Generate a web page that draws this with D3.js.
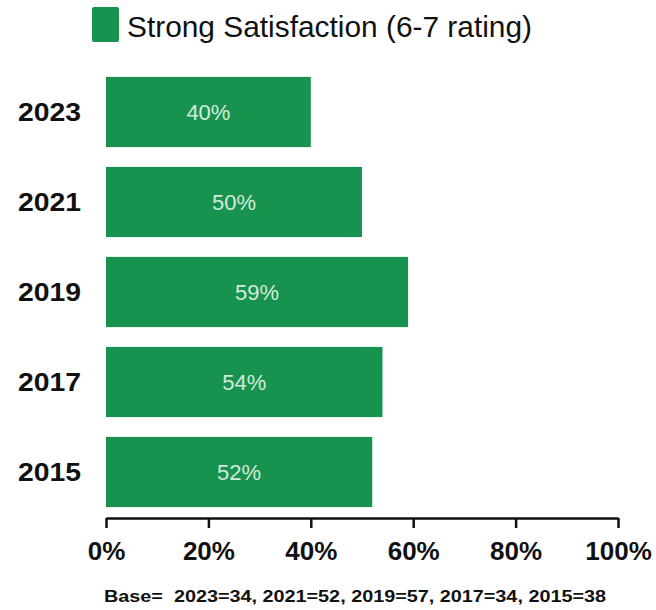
<!DOCTYPE html>
<html>
<head>
<meta charset="utf-8">
<script src="https://cdn.jsdelivr.net/npm/d3@7"></script>
<style>
  html, body { margin: 0; padding: 0; background: #ffffff; }
  svg { display: block; }
</style>
</head>
<body>
<div id="chart"></div>
<script>
// ---- data ----
const years = ["2023", "2021", "2019", "2017", "2015"];
const values = [40, 50, 59, 54, 52];
const tickValues = [0, 20, 40, 60, 80, 100];
const seriesName = "Strong Satisfaction (6-7 rating)";
const baseNote = "Base=  2023=34, 2021=52, 2019=57, 2017=34, 2015=38";

const W = 656, H = 610;
const green = "#17924f";

const svg = d3.select("#chart").append("svg")
  .attr("width", W).attr("height", H);

const x = d3.scaleLinear().domain([0, 100]).range([106, 618]);
const y = d3.scaleBand().domain(years).range([67, 517])
  .paddingInner(0.22).paddingOuter(0.11);

// bars
svg.selectAll("rect.bar").data(values).join("rect")
  .attr("class", "bar")
  .attr("x", x(0))
  .attr("y", (d, i) => y(years[i]))
  .attr("width", d => x(d) - x(0))
  .attr("height", y.bandwidth())
  .attr("fill", green);

// value labels
svg.selectAll("text.val").data(values).join("text")
  .attr("class", "val")
  .attr("x", d => (x(0) + x(d)) / 2)
  .attr("y", (d, i) => y(years[i]) + y.bandwidth() / 2)
  .attr("dy", "0.36em")
  .attr("text-anchor", "middle")
  .attr("font-family", "Liberation Sans, Arial, sans-serif")
  .attr("font-size", 22)
  .attr("fill", "#d3ebdb")
  .text(d => d + "%");

// year labels
svg.selectAll("text.yr").data(years).join("text")
  .attr("class", "yr")
  .attr("x", 81)
  .attr("y", d => y(d) + y.bandwidth() / 2)
  .attr("dy", "0.36em")
  .attr("text-anchor", "end")
  .attr("font-family", "Liberation Sans, Arial, sans-serif")
  .attr("font-weight", "bold")
  .attr("font-size", 26)
  .attr("textLength", 63).attr("lengthAdjust", "spacingAndGlyphs")
  .attr("fill", "#111")
  .text(d => d);

// x axis
const axis = d3.axisBottom(x).tickValues(tickValues)
  .tickFormat(d => d + "%").tickSizeOuter(0).tickSizeInner(10).tickPadding(14);
const gx = svg.append("g").attr("transform", "translate(0,518)").call(axis);
gx.select(".domain").attr("stroke", "#111").attr("stroke-width", 2.5);
gx.selectAll(".tick line").attr("stroke", "#111").attr("stroke-width", 2.5);
gx.selectAll(".tick text")
  .attr("font-family", "Liberation Sans, Arial, sans-serif")
  .attr("font-weight", "bold")
  .attr("font-size", 26)
  .attr("fill", "#111");

// legend
svg.append("rect")
  .attr("x", 92).attr("y", 7).attr("width", 27).attr("height", 35)
  .attr("rx", 2).attr("fill", green);
svg.append("text")
  .attr("x", 127).attr("y", 37)
  .attr("font-family", "Liberation Sans, Arial, sans-serif")
  .attr("font-size", 29)
  .attr("textLength", 405).attr("lengthAdjust", "spacingAndGlyphs")
  .attr("fill", "#111")
  .text(seriesName);

// base note
svg.append("text")
  .attr("x", 104).attr("y", 602)
  .attr("font-family", "Liberation Sans, Arial, sans-serif")
  .attr("font-weight", "bold")
  .attr("font-size", 16)
  .attr("textLength", 502).attr("lengthAdjust", "spacingAndGlyphs")
  .attr("fill", "#111")
  .style("white-space", "pre")
  .text(baseNote);
</script>
</body>
</html>
